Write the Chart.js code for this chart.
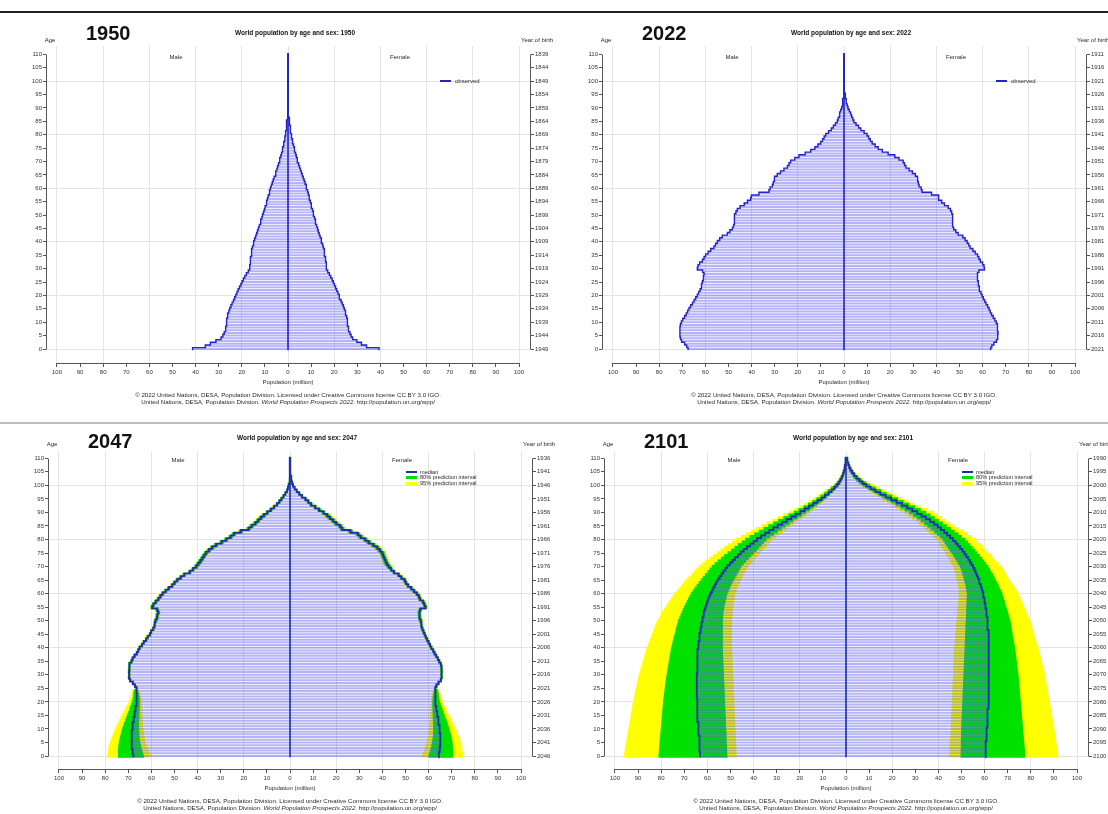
<!DOCTYPE html>
<html>
<head>
<meta charset="utf-8">
<script src="https://cdn.jsdelivr.net/npm/chart.js@4.4.1/dist/chart.umd.min.js"></script>
<style>
  html, body { margin: 0; padding: 0; background: #fff; }
  body { width: 1108px; height: 814px; position: relative; overflow: hidden;
         font-family: "Liberation Sans", Arial, sans-serif; }
  canvas { position: absolute; }
  .t { position: absolute; white-space: nowrap; line-height: 1; color: #222; }
  .mid { transform: translate(-50%, -50%); }
  .lft { transform: translate(0, -50%); }
  .rule { position: absolute; }
</style>
</head>
<body>
<script>
// ---------- axis ticks ----------
const AGE_TICKS = [0,5,10,15,20,25,30,35,40,45,50,55,60,65,70,75,80,85,90,95,100,105,110];
const POP_TICKS = [-100,-90,-80,-70,-60,-50,-40,-30,-20,-10,0,10,20,30,40,50,60,70,80,90,100];

// year of birth, one label per age tick (age 0 first)
const YOB_1950 = ['1949','1944','1939','1934','1929','1924','1919','1914','1909','1904','1899','1894','1889','1884','1879','1874','1869','1864','1859','1854','1849','1844','1839'];
const YOB_2022 = ['2021','2016','2011','2006','2001','1996','1991','1986','1981','1976','1971','1966','1961','1956','1951','1946','1941','1936','1931','1926','1921','1916','1911'];
const YOB_2047 = ['2046','2041','2036','2031','2026','2021','2016','2011','2006','2001','1996','1991','1986','1981','1976','1971','1966','1961','1956','1951','1946','1941','1936'];
const YOB_2101 = ['2100','2095','2090','2085','2080','2075','2070','2065','2060','2055','2050','2045','2040','2035','2030','2025','2020','2015','2010','2005','2000','1995','1990'];

// ---------- population by single age 0..110 (million) ----------
const M1950 = [41.3,35.8,33.6,31.2,29.0,28.2,27.6,27.2,26.9,26.7,
26.6,26.5,26.4,26.0,25.6,25.2,24.7,24.2,23.6,23.1,
22.6,22.1,21.6,21.0,20.4,19.9,19.3,18.7,18.0,17.2,
16.7,16.5,16.4,16.3,16.2,16.0,15.8,15.6,15.4,15.1,
14.8,14.4,14.0,13.6,13.2,12.8,12.4,12.0,11.7,11.3,
11.0,10.6,10.2,9.9,9.5,9.2,8.9,8.6,8.2,7.9,
7.6,7.2,6.8,6.4,6.0,5.6,5.2,4.8,4.5,4.1,
3.8,3.5,3.1,2.8,2.5,2.3,2.0,1.8,1.5,1.3,
1.15,1.0,0.85,0.72,0.6,0.5,0.4,0.32,0.25,0.19,
0.15,0.11,0.08,0.06,0.045,0.03,0.022,0.015,0.01,0.007,
0.005,0.003,0.002,0.0015,0.001,0.0007,0.0005,0.0003,0.0002,0.0001,0.0001];
const F1950 = [39.4,34.0,31.8,29.8,28.0,27.3,26.8,26.4,26.1,25.9,
25.8,25.6,25.4,25.1,24.8,24.4,24.0,23.5,23.0,22.5,
22.1,21.6,21.1,20.6,20.1,19.6,19.1,18.5,17.9,17.2,
16.8,16.6,16.5,16.4,16.2,16.0,15.8,15.6,15.3,15.0,
14.7,14.3,13.9,13.5,13.1,12.8,12.4,12.1,11.8,11.5,
11.2,10.9,10.6,10.3,10.0,9.7,9.4,9.1,8.8,8.5,
8.2,7.8,7.4,7.0,6.6,6.2,5.8,5.4,5.0,4.6,
4.3,3.9,3.6,3.3,3.0,2.7,2.4,2.1,1.9,1.65,
1.45,1.25,1.08,0.92,0.78,0.65,0.53,0.43,0.34,0.27,
0.21,0.16,0.12,0.09,0.065,0.047,0.033,0.023,0.016,0.011,
0.008,0.005,0.0035,0.0025,0.0017,0.0012,0.0008,0.0005,0.0003,0.0002,0.0001];

const M2022 = [67.5,68.1,69.0,70.3,70.8,71.0,71.1,71.0,71.0,70.8,
70.4,69.8,69.0,68.3,67.7,67.1,66.4,65.6,64.9,64.2,
63.5,62.9,62.3,61.9,61.6,61.3,61.0,60.8,60.6,61.2,
63.5,63.2,62.5,61.3,60.6,59.9,58.8,57.7,56.3,55.6,
54.8,53.8,52.7,50.5,49.4,48.3,47.8,47.6,47.5,47.4,
47.3,46.8,46.2,45.0,43.2,41.8,40.4,40.1,36.8,32.5,
32.0,31.0,30.6,30.3,30.0,28.9,27.5,26.0,24.5,23.8,
23.1,21.3,19.5,16.8,14.4,12.6,11.3,10.1,9.3,8.6,
7.9,6.7,5.5,4.6,3.7,2.9,2.5,2.1,1.8,1.4,
1.0,0.8,0.62,0.48,0.37,0.28,0.2,0.14,0.1,0.07,
0.05,0.035,0.024,0.016,0.01,0.007,0.004,0.003,0.002,0.001,0.001];
const F2022 = [63.5,64.0,64.9,66.0,66.4,66.6,66.7,66.6,66.5,66.3,
65.9,65.3,64.6,63.9,63.3,62.8,62.2,61.5,60.9,60.3,
59.8,59.3,58.8,58.5,58.3,58.1,57.9,57.8,57.7,58.4,
60.8,60.6,60.0,59.0,58.4,57.8,56.8,55.8,54.6,54.0,
53.3,52.4,51.4,49.4,48.4,47.5,47.1,47.0,47.0,47.0,
47.0,46.6,46.1,45.1,43.5,42.3,41.1,40.9,37.9,33.8,
33.4,32.5,32.2,32.0,31.8,30.9,29.6,28.2,26.8,26.2,
25.6,23.8,22.0,19.1,16.6,14.8,13.5,12.2,11.4,10.7,
10.0,8.7,7.3,6.3,5.2,4.3,3.8,3.3,2.9,2.3,
1.75,1.4,1.12,0.89,0.7,0.55,0.41,0.3,0.22,0.16,
0.12,0.085,0.06,0.04,0.027,0.018,0.012,0.008,0.005,0.003,0.002];

// 2047: median and prediction bounds
const M2047 = [67.8,68.0,68.2,68.4,68.5,68.6,68.6,68.6,68.5,68.4,
68.3,68.2,68.0,67.8,67.6,67.4,67.2,67.0,66.8,66.6,
66.4,66.3,66.3,66.4,66.5,66.5,67.1,68.0,69.2,69.7,
69.6,69.7,69.6,69.6,69.4,68.6,68.1,67.3,66.3,65.7,
65.1,64.1,63.3,62.3,61.6,60.6,60.1,59.2,58.8,58.5,
58.2,57.6,57.5,57.0,57.5,59.7,59.1,58.1,57.0,56.1,
55.1,53.8,52.5,51.0,50.0,48.8,47.3,45.8,43.4,42.0,
40.6,39.7,38.8,38.0,37.2,36.4,35.1,33.7,32.0,29.6,
27.6,25.7,24.3,21.3,17.9,16.6,15.0,13.8,12.6,11.3,
9.8,8.3,6.9,5.6,4.6,3.7,2.8,2.0,1.3,0.9,
0.6,0.42,0.3,0.2,0.13,0.09,0.06,0.04,0.025,0.015,0.01];
const M2047_HI80 = [74.3,74.3,74.3,74.2,74.1,73.9,73.7,73.4,73.1,72.8,
72.5,72.1,71.7,71.2,70.8,70.4,69.9,69.5,69.1,68.7,
68.3,68.0,67.8,67.7,67.5,66.8,67.4,68.3,69.5,70.0,
69.9,70.0,69.9,69.9,69.7,68.9,68.4,67.6,66.6,66.0,
65.4,64.4,63.6,62.6,61.9,60.9,60.4,59.5,59.1,58.8,
58.7,58.1,58.0,57.5,58.0,60.2,59.6,58.6,57.5,56.6,
55.6,54.3,53.0,51.5,50.5,49.3,47.8,46.3,43.9,42.5,
41.3,40.4,39.5,38.7,37.9,37.1,35.8,34.4,32.7,30.3,
28.3,26.4,25.0,22.0,18.6,17.3,15.7,14.5,13.3,12.0,
10.3,8.8,7.3,6.0,4.9,4.0,3.0,2.2,1.4,1.0,
0.65,0.46,0.33,0.22,0.14,0.1,0.07,0.045,0.03,0.018,0.012];
const M2047_HI95 = [79.0,78.8,78.6,78.4,78.1,77.8,77.4,77.0,76.5,76.0,
75.5,75.0,74.4,73.8,73.2,72.6,72.0,71.4,70.8,70.2,
69.7,69.2,68.8,68.5,68.1,67.0,67.6,68.5,69.7,70.2,
70.1,70.2,70.1,70.1,69.9,69.1,68.6,67.8,66.8,66.2,
65.6,64.6,63.8,62.8,62.1,61.1,60.6,59.7,59.3,59.0,
59.0,58.4,58.3,57.8,58.3,60.5,59.9,58.9,57.8,56.9,
55.9,54.6,53.3,51.8,50.8,49.6,48.1,46.6,44.2,42.8,
41.7,40.8,39.9,39.1,38.3,37.5,36.2,34.8,33.1,30.7,
28.7,26.8,25.4,22.4,19.0,17.7,16.1,14.9,13.7,12.4,
10.6,9.1,7.6,6.2,5.1,4.2,3.1,2.3,1.5,1.05,
0.7,0.5,0.36,0.24,0.15,0.11,0.075,0.05,0.032,0.02,0.013];
const M2047_LO80 = [63.4,63.8,64.1,64.5,64.7,65.0,65.2,65.3,65.4,65.4,
65.5,65.5,65.5,65.5,65.4,65.4,65.3,65.3,65.2,65.2,
65.2,65.2,65.4,65.6,66.0,66.2,66.8,67.7,68.9,69.4,
69.3,69.4,69.3,69.3,69.1,68.3,67.8,67.0,66.0,65.4,
64.8,63.8,63.0,62.0,61.3,60.3,59.8,58.9,58.5,58.2,
57.7,57.1,57.0,56.5,57.0,59.2,58.6,57.6,56.5,55.6,
54.6,53.3,52.0,50.5,49.5,48.3,46.8,45.3,42.9,41.5,
39.9,39.0,38.1,37.3,36.5,35.7,34.4,33.0,31.3,28.9,
26.9,25.0,23.6,20.6,17.2,15.9,14.3,13.1,11.9,10.6,
9.3,7.8,6.5,5.2,4.3,3.4,2.6,1.8,1.2,0.8,
0.55,0.38,0.27,0.18,0.12,0.08,0.05,0.035,0.02,0.012,0.008];
const M2047_LO95 = [60.4,60.9,61.3,61.8,62.2,62.6,62.9,63.1,63.3,63.4,
63.6,63.8,63.9,63.9,64.0,64.0,64.1,64.1,64.2,64.2,
64.3,64.5,64.7,65.0,65.5,66.0,66.6,67.5,68.7,69.2,
69.1,69.2,69.1,69.1,68.9,68.1,67.6,66.8,65.8,65.2,
64.6,63.6,62.8,61.8,61.1,60.1,59.6,58.7,58.3,58.0,
57.4,56.8,56.7,56.2,56.7,58.9,58.3,57.3,56.2,55.3,
54.3,53.0,51.7,50.2,49.2,48.0,46.5,45.0,42.6,41.2,
39.5,38.6,37.7,36.9,36.1,35.3,34.0,32.6,30.9,28.5,
26.5,24.6,23.2,20.2,16.8,15.5,13.9,12.7,11.5,10.2,
9.0,7.5,6.2,5.0,4.1,3.2,2.5,1.7,1.1,0.75,
0.5,0.35,0.25,0.16,0.11,0.07,0.045,0.03,0.018,0.01,0.007];

const F2047 = [64.3,64.5,64.7,64.9,65.0,65.1,65.1,65.1,65.0,64.9,
64.8,64.7,64.5,64.3,64.1,63.9,63.7,63.5,63.3,63.1,
63.0,62.9,62.9,63.0,63.0,62.9,63.4,64.3,65.3,65.7,
65.6,65.7,65.6,65.5,65.3,64.6,64.0,63.3,62.6,62.0,
61.2,60.6,60.0,59.4,58.8,58.3,57.8,57.3,57.0,56.8,
56.6,56.2,56.1,56.0,56.4,58.7,58.2,57.6,56.3,55.8,
54.9,53.7,52.5,51.1,50.2,49.6,48.2,47.0,45.0,43.8,
42.8,41.9,41.4,40.9,40.4,40.0,38.9,37.8,36.1,34.1,
32.6,30.6,29.4,26.2,22.6,21.7,20.0,18.7,17.3,16.1,
14.5,12.6,10.9,9.1,7.9,6.7,5.2,4.0,2.9,2.0,
1.3,0.95,0.7,0.5,0.35,0.25,0.17,0.11,0.07,0.045,0.03];
const F2047_HI80 = [70.5,70.5,70.5,70.4,70.3,70.2,70.0,69.8,69.5,69.1,
68.8,68.5,68.1,67.7,67.2,66.8,66.4,66.0,65.6,65.1,
64.8,64.5,64.3,64.2,63.9,63.2,63.7,64.6,65.6,66.0,
65.9,66.0,65.9,65.8,65.6,64.9,64.3,63.6,62.9,62.3,
61.5,60.9,60.3,59.7,59.1,58.6,58.1,57.6,57.3,57.1,
57.1,56.7,56.6,56.5,56.9,59.2,58.7,58.1,56.8,56.3,
55.4,54.2,53.0,51.6,50.7,50.1,48.7,47.5,45.5,44.3,
43.6,42.7,42.2,41.7,41.2,40.8,39.7,38.6,36.9,34.9,
33.4,31.4,30.2,27.0,23.4,22.5,20.8,19.5,18.1,16.9,
15.1,13.2,11.4,9.6,8.3,7.1,5.5,4.3,3.1,2.15,
1.4,1.02,0.75,0.54,0.38,0.27,0.18,0.12,0.075,0.048,0.032];
const F2047_HI95 = [74.9,74.7,74.5,74.3,74.1,73.8,73.4,73.0,72.6,72.1,
71.6,71.1,70.5,69.9,69.4,68.8,68.2,67.6,67.0,66.4,
66.0,65.5,65.2,64.9,64.6,63.4,63.9,64.8,65.8,66.2,
66.1,66.2,66.1,66.0,65.8,65.1,64.5,63.8,63.1,62.5,
61.7,61.1,60.5,59.9,59.3,58.8,58.3,57.8,57.5,57.3,
57.4,57.0,56.9,56.8,57.2,59.5,59.0,58.4,57.1,56.6,
55.7,54.5,53.3,51.9,51.0,50.4,49.0,47.8,45.8,44.6,
44.1,43.2,42.7,42.2,41.7,41.3,40.2,39.1,37.4,35.4,
33.9,31.9,30.7,27.5,23.9,23.0,21.3,20.0,18.6,17.4,
15.5,13.6,11.8,9.9,8.6,7.4,5.7,4.5,3.3,2.25,
1.5,1.08,0.8,0.57,0.4,0.29,0.19,0.13,0.08,0.05,0.034];
const F2047_LO80 = [60.1,60.5,60.8,61.2,61.4,61.7,61.8,62.0,62.1,62.1,
62.1,62.2,62.1,62.1,62.0,62.0,61.9,61.9,61.8,61.8,
61.8,61.9,62.0,62.3,62.4,62.6,63.1,64.0,65.0,65.4,
65.3,65.4,65.3,65.2,65.0,64.3,63.7,63.0,62.3,61.7,
60.9,60.3,59.7,59.1,58.5,58.0,57.5,57.0,56.7,56.5,
56.1,55.7,55.6,55.5,55.9,58.2,57.7,57.1,55.8,55.3,
54.4,53.2,52.0,50.6,49.7,49.1,47.7,46.5,44.5,43.3,
42.0,41.1,40.6,40.1,39.6,39.2,38.1,37.0,35.3,33.3,
31.8,29.8,28.6,25.4,21.8,20.9,19.2,17.9,16.5,15.3,
13.9,12.0,10.4,8.6,7.5,6.3,4.9,3.7,2.7,1.85,
1.2,0.88,0.65,0.46,0.32,0.23,0.16,0.1,0.065,0.042,0.028];
const F2047_LO95 = [57.3,57.7,58.2,58.6,59.0,59.3,59.6,59.9,60.0,60.2,
60.4,60.5,60.6,60.7,60.8,60.8,60.9,61.0,61.0,61.1,
61.2,61.3,61.5,61.8,62.1,62.4,62.9,63.8,64.8,65.2,
65.1,65.2,65.1,65.0,64.8,64.1,63.5,62.8,62.1,61.5,
60.7,60.1,59.5,58.9,58.3,57.8,57.3,56.8,56.5,56.3,
55.8,55.4,55.3,55.2,55.6,57.9,57.4,56.8,55.5,55.0,
54.1,52.9,51.7,50.3,49.4,48.8,47.4,46.2,44.2,43.0,
41.5,40.6,40.1,39.6,39.1,38.7,37.6,36.5,34.8,32.8,
31.3,29.3,28.1,24.9,21.3,20.4,18.7,17.4,16.0,14.8,
13.5,11.6,10.0,8.3,7.2,6.0,4.7,3.5,2.5,1.75,
1.1,0.82,0.6,0.43,0.3,0.21,0.15,0.095,0.06,0.04,0.026];

// 2101: median and prediction bounds
const M2101 = [63.2,63.2,63.3,63.3,63.4,63.5,63.5,63.6,63.7,63.8,
63.9,64.0,64.0,64.1,64.2,64.3,64.3,64.4,64.4,64.5,
64.5,64.5,64.6,64.6,64.6,64.6,64.6,64.6,64.6,64.6,
64.6,64.5,64.5,64.5,64.4,64.4,64.3,64.2,64.2,64.1,
64.0,63.9,63.8,63.6,63.5,63.3,63.1,62.9,62.7,62.5,
62.3,62.0,61.8,61.5,61.2,60.8,60.4,60.0,59.6,59.1,
58.6,58.0,57.4,56.8,56.2,55.5,54.7,53.9,53.1,52.2,
51.3,50.2,49.1,48.0,46.8,45.6,44.3,42.9,41.5,40.0,
38.5,36.8,35.0,33.2,31.4,29.6,27.6,25.7,23.7,21.8,
19.8,17.9,16.0,14.2,12.4,10.6,9.1,7.6,6.3,5.1,
4.0,3.1,2.4,1.8,1.3,1.0,0.7,0.5,0.33,0.22,0.15];
const M2101_LO95 = [47.5,47.6,47.6,47.7,47.7,47.8,47.8,47.9,47.9,48.0,
48.0,48.1,48.1,48.2,48.2,48.3,48.3,48.4,48.4,48.5,
48.5,48.6,48.6,48.7,48.7,48.8,48.8,48.9,48.9,49.0,
49.0,49.1,49.1,49.2,49.2,49.3,49.3,49.4,49.4,49.5,
49.5,49.5,49.5,49.5,49.5,49.5,49.5,49.5,49.5,49.5,
49.5,49.4,49.3,49.2,49.1,49.0,48.8,48.6,48.4,48.2,
48.0,47.6,47.2,46.7,46.2,45.7,45.1,44.5,43.9,43.2,
42.5,41.6,40.6,39.6,38.6,37.5,36.4,35.3,34.2,33.1,
32.0,30.5,29.0,27.5,25.9,24.3,22.7,21.1,19.4,17.7,
16.0,14.5,13.0,11.6,10.2,8.9,7.6,6.4,5.2,4.1,
3.0,2.3,1.7,1.2,0.85,0.6,0.42,0.3,0.2,0.14,0.1];
const M2101_LO80 = [51.5,51.6,51.6,51.7,51.7,51.8,51.8,51.9,51.9,52.0,
52.0,52.1,52.1,52.2,52.2,52.3,52.3,52.4,52.4,52.5,
52.5,52.6,52.6,52.7,52.7,52.8,52.8,52.9,52.9,53.0,
53.0,53.1,53.1,53.2,53.2,53.3,53.3,53.4,53.4,53.5,
53.5,53.5,53.5,53.5,53.5,53.5,53.5,53.5,53.5,53.5,
53.5,53.4,53.3,53.2,53.0,52.8,52.6,52.3,52.0,51.8,
51.5,51.0,50.5,50.0,49.4,48.8,48.1,47.4,46.7,46.1,
45.5,44.5,43.4,42.3,41.2,40.0,38.9,37.8,36.7,35.6,
34.5,32.9,31.3,29.7,28.0,26.3,24.6,22.9,21.1,19.3,
17.5,15.9,14.3,12.7,11.2,9.8,8.4,7.0,5.7,4.5,
3.3,2.5,1.85,1.35,0.95,0.68,0.48,0.34,0.24,0.17,0.12];
const M2101_HI80 = [81.0,80.9,80.8,80.7,80.6,80.5,80.4,80.3,80.2,80.1,
80.0,79.9,79.8,79.7,79.6,79.5,79.4,79.3,79.2,79.1,
79.0,78.9,78.7,78.6,78.4,78.3,78.1,78.0,77.8,77.7,
77.5,77.3,77.1,76.9,76.7,76.5,76.3,76.1,75.9,75.7,
75.5,75.2,74.9,74.6,74.3,74.0,73.7,73.4,73.1,72.8,
72.5,72.0,71.5,71.0,70.5,70.0,69.4,68.8,68.2,67.6,
67.0,66.2,65.4,64.5,63.6,62.7,61.8,60.9,59.9,59.0,
58.0,56.7,55.4,54.0,52.6,51.1,49.6,48.1,46.6,45.0,
43.5,41.6,39.6,37.6,35.6,33.5,31.4,29.2,27.0,24.8,
22.5,20.4,18.3,16.3,14.4,12.6,10.9,9.3,7.8,6.3,
4.8,3.8,2.9,2.2,1.6,1.2,0.85,0.6,0.42,0.3,0.2];
const M2101_HI95 = [96.0,95.8,95.6,95.4,95.2,95.0,94.8,94.6,94.4,94.2,
94.0,93.8,93.6,93.4,93.2,93.0,92.8,92.6,92.4,92.2,
92.0,91.8,91.5,91.3,91.0,90.8,90.5,90.3,90.0,89.8,
89.5,89.2,88.8,88.5,88.1,87.8,87.4,87.1,86.7,86.4,
86.0,85.6,85.1,84.7,84.2,83.8,83.3,82.9,82.4,82.0,
81.5,80.8,80.1,79.4,78.7,78.0,77.2,76.4,75.6,74.8,
74.0,73.0,72.0,71.0,70.0,69.0,67.9,66.8,65.7,64.6,
63.5,62.0,60.5,59.0,57.4,55.8,54.2,52.6,50.9,49.2,
47.5,45.4,43.2,41.0,38.8,36.5,34.2,31.8,29.4,27.0,
24.5,22.2,20.0,17.8,15.8,13.9,12.1,10.4,8.8,7.1,
5.5,4.3,3.3,2.5,1.9,1.4,1.0,0.7,0.5,0.35,0.25];

const F2101 = [60.3,60.4,60.4,60.5,60.5,60.6,60.7,60.8,60.8,60.9,
61.0,61.1,61.1,61.2,61.2,61.3,61.4,61.4,61.5,61.5,
61.6,61.6,61.7,61.7,61.8,61.8,61.8,61.8,61.9,61.9,
61.9,61.9,61.9,61.9,61.9,61.9,61.9,61.9,61.8,61.8,
61.8,61.8,61.7,61.7,61.6,61.6,61.5,61.4,61.4,61.3,
61.2,61.1,61.0,60.8,60.7,60.5,60.3,60.1,59.9,59.6,
59.4,59.1,58.7,58.4,58.0,57.6,57.1,56.6,56.1,55.6,
55.0,54.3,53.6,52.9,52.1,51.3,50.4,49.4,48.4,47.4,
46.3,45.1,43.8,42.5,41.1,39.7,38.1,36.4,34.6,32.7,
30.8,28.7,26.5,24.2,21.9,19.5,17.2,14.9,12.8,10.7,
8.8,7.2,5.8,4.5,3.5,2.6,1.9,1.4,1.0,0.7,0.5];
const F2101_LO95 = [44.8,44.9,44.9,45.0,45.1,45.1,45.2,45.3,45.4,45.4,
45.5,45.5,45.6,45.6,45.7,45.7,45.8,45.8,45.9,45.9,
46.0,46.0,46.1,46.1,46.2,46.2,46.3,46.3,46.4,46.4,
46.5,46.5,46.6,46.6,46.7,46.7,46.8,46.8,46.9,46.9,
47.0,47.1,47.2,47.3,47.4,47.5,47.6,47.7,47.8,47.9,
48.0,48.1,48.2,48.3,48.4,48.5,48.6,48.7,48.8,48.9,
49.0,48.9,48.8,48.6,48.4,48.2,47.9,47.6,47.3,46.9,
46.5,45.9,45.3,44.6,43.9,43.1,42.4,41.6,40.8,40.2,
39.5,38.3,37.1,35.9,34.6,33.3,31.9,30.5,28.8,27.2,
25.5,23.6,21.7,19.8,17.9,16.0,14.2,12.4,10.6,8.7,
6.8,5.4,4.2,3.2,2.4,1.8,1.3,0.95,0.7,0.5,0.35];
const F2101_LO80 = [49.8,49.8,49.8,49.9,49.9,49.9,49.9,50.0,50.0,50.0,
50.0,50.1,50.1,50.2,50.2,50.3,50.3,50.4,50.4,50.5,
50.5,50.6,50.6,50.7,50.7,50.8,50.8,50.9,50.9,51.0,
51.0,51.1,51.1,51.2,51.2,51.3,51.3,51.4,51.4,51.5,
51.5,51.6,51.6,51.7,51.7,51.8,51.8,51.9,51.9,52.0,
52.0,52.1,52.1,52.2,52.2,52.3,52.3,52.4,52.4,52.5,
52.5,52.3,52.1,51.9,51.6,51.3,51.0,50.6,50.3,49.9,
49.5,48.8,48.1,47.4,46.7,45.9,45.1,44.3,43.5,42.8,
42.0,40.8,39.5,38.2,36.8,35.4,34.0,32.5,30.9,29.2,
27.5,25.6,23.6,21.6,19.7,17.7,15.7,13.7,11.6,9.6,
7.5,6.0,4.6,3.5,2.7,2.0,1.5,1.1,0.8,0.55,0.4];
const F2101_HI80 = [77.5,77.4,77.3,77.2,77.1,77.0,76.9,76.8,76.7,76.6,
76.5,76.4,76.3,76.2,76.1,76.0,75.9,75.8,75.7,75.6,
75.5,75.4,75.3,75.2,75.1,75.0,74.9,74.8,74.7,74.6,
74.5,74.4,74.2,74.1,73.9,73.8,73.6,73.5,73.3,73.2,
73.0,72.8,72.6,72.4,72.2,72.0,71.8,71.6,71.4,71.2,
71.0,70.7,70.3,70.0,69.6,69.3,68.9,68.6,68.2,67.9,
67.5,67.0,66.4,65.9,65.3,64.7,64.1,63.5,62.8,62.2,
61.5,60.6,59.7,58.8,57.8,56.8,55.8,54.7,53.7,52.6,
51.5,50.0,48.5,46.9,45.2,43.5,41.8,40.0,38.2,36.4,
34.5,32.2,29.8,27.3,24.8,22.3,19.9,17.4,15.0,12.6,
10.3,8.4,6.7,5.2,4.0,3.1,2.3,1.7,1.2,0.85,0.6];
const F2101_HI95 = [91.8,91.6,91.4,91.3,91.1,90.9,90.7,90.5,90.4,90.2,
90.0,89.8,89.6,89.4,89.2,89.0,88.8,88.6,88.4,88.2,
88.0,87.8,87.6,87.4,87.2,87.0,86.8,86.6,86.4,86.2,
86.0,85.7,85.4,85.1,84.8,84.5,84.2,83.9,83.6,83.3,
83.0,82.7,82.3,82.0,81.6,81.3,80.9,80.6,80.2,79.9,
79.5,79.0,78.5,78.0,77.5,77.0,76.5,76.0,75.5,75.0,
74.5,73.8,73.0,72.3,71.5,70.8,70.0,69.3,68.5,67.8,
67.0,65.9,64.8,63.7,62.6,61.5,60.4,59.3,58.2,57.1,
56.0,54.2,52.3,50.5,48.6,46.8,44.9,43.1,41.2,39.4,
37.5,34.8,32.1,29.4,26.8,24.2,21.7,19.1,16.6,14.0,
11.5,9.3,7.4,5.8,4.5,3.5,2.6,1.9,1.4,1.0,0.7];

// ---------- colours ----------
const C_BAR = 'rgba(88,88,236,0.45)';
const C_LINE = '#2323c8';
const C_MEDIAN = '#1d2fae';
const C_GREEN = '#00e100';
const C_YELLOW = '#ffff00';
const C_GRID = '#e4e4e4';
const C_AXIS = '#555';
const C_TEXT = '#2a2a2a';

Chart.defaults.font.family = "'Liberation Sans', Arial, sans-serif";
Chart.defaults.color = '#333';

// ---------- panel layout (page px) ----------
const PANELS = [
  { year:'1950', left:0,   top:14,  w:556, h:408, cx:288, axL:46,  axR:531,  y0:349, y110:54.3,  axY:363, topY:46,
    male:M1950, female:F1950, yob:YOB_1950, kind:'observed' },
  { year:'2022', left:556, top:14,  w:552, h:408, cx:844, axL:602, axR:1087, y0:349, y110:54.3,  axY:363, topY:46,
    male:M2022, female:F2022, yob:YOB_2022, kind:'observed' },
  { year:'2047', left:0,   top:424, w:556, h:390, cx:290, axL:48,  axR:533,  y0:756, y110:458.3, axY:769, topY:452,
    male:M2047, female:F2047, yob:YOB_2047, kind:'projected',
    mLo95:M2047_LO95, mLo80:M2047_LO80, mHi80:M2047_HI80, mHi95:M2047_HI95,
    fLo95:F2047_LO95, fLo80:F2047_LO80, fHi80:F2047_HI80, fHi95:F2047_HI95 },
  { year:'2101', left:556, top:424, w:552, h:390, cx:846, axL:604, axR:1089, y0:756, y110:458.3, axY:769, topY:452,
    male:M2101, female:F2101, yob:YOB_2101, kind:'projected',
    mLo95:M2101_LO95, mLo80:M2101_LO80, mHi80:M2101_HI80, mHi95:M2101_HI95,
    fLo95:F2101_LO95, fLo80:F2101_LO80, fHi80:F2101_HI80, fHi95:F2101_HI95 }
];
const PX_PER_MILLION = 2.31;

// axis lines drawn only across the tick range, base-graphics style
const axisLines = {
  id: 'axisLines',
  afterDraw(chart) {
    const { ctx, chartArea: a } = chart;
    const x = chart.scales.x, y = chart.scales.y;
    const yb = Math.round(y.getPixelForValue(0)) + 0.5;
    const yt = Math.round(y.getPixelForValue(110)) + 0.5;
    const xl = x.getPixelForValue(-100), xr = x.getPixelForValue(100);
    ctx.save();
    ctx.strokeStyle = C_AXIS;
    ctx.lineWidth = 1;
    ctx.beginPath();
    ctx.moveTo(a.left + 0.5, yb); ctx.lineTo(a.left + 0.5, yt);
    ctx.moveTo(a.right - 0.5, yb); ctx.lineTo(a.right - 0.5, yt);
    ctx.moveTo(xl, a.bottom + 0.5); ctx.lineTo(xr, a.bottom + 0.5);
    ctx.stroke();
    ctx.restore();
  }
};

function stepOutline(values, sign) {
  const pts = [];
  values.forEach((v, age) => {
    pts.push({ x: sign * v, y: age - 0.5 });
    pts.push({ x: sign * v, y: age + 0.5 });
  });
  return pts;
}
function rangeBars(lo, hi, sign) {
  return lo.map((v, age) => ({ x: [sign * v, sign * hi[age]], y: age }));
}

function buildPanel(p) {
  const cv = document.createElement('canvas');
  cv.width = p.w; cv.height = p.h;
  cv.style.left = p.left + 'px'; cv.style.top = p.top + 'px';
  cv.style.width = p.w + 'px'; cv.style.height = p.h + 'px';
  document.body.appendChild(cv);

  const ppy = (p.y0 - p.y110) / 110;
  const xmin = -(p.cx - p.axL) / PX_PER_MILLION;
  const xmax = (p.axR - p.cx) / PX_PER_MILLION;
  const ymin = -(p.axY - p.y0) / ppy;
  const ymax = 110 + (p.y110 - p.topY) / ppy;

  const datasets = [];
  if (p.kind === 'projected') {
    const band = (data, color, order) => ({
      type: 'bar', data, backgroundColor: color, borderWidth: 0, grouped: false,
      barPercentage: 1, categoryPercentage: 1, inflateAmount: 0.4, order
    });
    datasets.push(band(rangeBars(p.mLo95, p.mHi95, -1), C_YELLOW, 20));
    datasets.push(band(rangeBars(p.fLo95, p.fHi95, 1), C_YELLOW, 20));
    datasets.push(band(rangeBars(p.mLo80, p.mHi80, -1), C_GREEN, 19));
    datasets.push(band(rangeBars(p.fLo80, p.fHi80, 1), C_GREEN, 19));
  }
  // one bar per single age, from the male total (left) to the female total (right)
  datasets.push({
    type: 'bar', grouped: false, order: 10,
    data: p.male.map((m, age) => ({ x: [-m, p.female[age]], y: age })),
    backgroundColor: C_BAR, borderWidth: 0, barPercentage: 0.74, categoryPercentage: 1
  });
  const lineColor = p.kind === 'projected' ? C_MEDIAN : C_LINE;
  const outline = (data) => ({
    type: 'line', data, borderColor: lineColor, borderWidth: p.kind === 'projected' ? 1.8 : 1.4,
    pointRadius: 0, fill: false, tension: 0, order: 2
  });
  datasets.push(outline(stepOutline(p.male, -1)));
  datasets.push(outline(stepOutline(p.female, 1)));
  datasets.push({
    type: 'line', data: [{ x: 0, y: -0.5 }, { x: 0, y: 110 }],
    borderColor: lineColor, borderWidth: 1.6, pointRadius: 0, order: 1
  });

  const gridColor = (ctx) => (ctx.tick && ctx.tick.value % 20 === 0 && ctx.tick.value <= 100) ? C_GRID : 'rgba(0,0,0,0)';

  new Chart(cv, {
    type: 'bar',
    data: { datasets },
    options: {
      responsive: false, animation: false, devicePixelRatio: 1, indexAxis: 'y',
      layout: { padding: { top: p.topY - p.top, left: 0, right: 0, bottom: 0 } },
      plugins: { legend: { display: false }, tooltip: { enabled: false } },
      scales: {
        x: {
          type: 'linear', position: 'bottom', min: xmin, max: xmax, offset: false,
          afterBuildTicks: (s) => { s.ticks = POP_TICKS.map(v => ({ value: v })); },
          afterFit: (s) => { s.height = p.h - (p.axY - p.top); },
          ticks: { callback: (v) => String(Math.abs(v)), font: { size: 6 }, color: '#333', padding: 2, maxRotation: 0, autoSkip: false },
          grid: { offset: false, color: gridColor, tickColor: C_AXIS, tickLength: 4, lineWidth: 1 },
          border: { display: false }
        },
        y: {
          type: 'linear', position: 'left', min: ymin, max: ymax, offset: false,
          afterBuildTicks: (s) => { s.ticks = AGE_TICKS.map(v => ({ value: v })); },
          afterFit: (s) => { s.width = p.axL - p.left; },
          ticks: { font: { size: 6 }, color: '#333', padding: 1, autoSkip: false },
          grid: { offset: false, color: gridColor, tickColor: C_AXIS, tickLength: 3, lineWidth: 1 },
          border: { display: false }
        },
        y2: {
          type: 'linear', position: 'right', min: ymin, max: ymax, offset: false,
          afterBuildTicks: (s) => { s.ticks = AGE_TICKS.map(v => ({ value: v })); },
          afterFit: (s) => { s.width = p.left + p.w - p.axR; },
          ticks: { callback: (v) => p.yob[Math.round(v / 5)], font: { size: 6 }, color: '#333', padding: 1, autoSkip: false },
          grid: { offset: false, drawOnChartArea: false, tickColor: C_AXIS, tickLength: 3 },
          border: { display: false }
        }
      }
    },
    plugins: [axisLines]
  });
}

// ---------- text ----------
function txt(str, x, y, o) {
  const d = document.createElement('div');
  d.className = 't ' + (o.anchor === 'start' ? 'lft' : 'mid');
  d.style.left = x + 'px'; d.style.top = y + 'px';
  d.style.fontSize = o.size + 'px';
  if (o.bold) d.style.fontWeight = 'bold';
  if (o.color) d.style.color = o.color;
  if (o.html) d.innerHTML = str; else d.textContent = str;
  document.body.appendChild(d);
  return d;
}
function rule(x, y, w, h, color) {
  const d = document.createElement('div');
  d.className = 'rule';
  Object.assign(d.style, { left: x + 'px', top: y + 'px', width: w + 'px', height: h + 'px', background: color });
  document.body.appendChild(d);
}

function labelPanel(p) {
  const top = p.top < 100;
  const cx = p.cx;
  const yYear = top ? 33 : 440.5, yTitle = top ? 33 : 438, yAge = top ? 40 : 443.5, yMF = top ? 56.7 : 459.5;
  txt(p.year, cx - 202, yYear, { size: 20, bold: true, anchor: 'start', color: '#111' });
  txt('World population by age and sex: ' + p.year, cx + 7, yTitle, { size: 6.5, bold: true, color: '#111' });
  txt('Age', cx - 238, yAge, { size: 6, color: C_TEXT });
  txt('Year of birth', cx + 233, yAge, { size: 6, anchor: 'start', color: C_TEXT });
  txt('Male', cx - 112, yMF, { size: 6, color: C_TEXT });
  txt('Female', cx + 112, yMF, { size: 6, color: C_TEXT });

  if (p.kind === 'observed') {
    rule(cx + 152, 80, 11, 1.5, C_LINE);
    txt('observed', cx + 167, 80.5, { size: 6, anchor: 'start', color: C_TEXT });
  } else {
    const lx = cx + 116;
    const items = [['median', C_MEDIAN, 1.5, 472], ['80% prediction interval', C_GREEN, 3, 477.5], ['95% prediction interval', C_YELLOW, 3, 483]];
    items.forEach(([label, color, lw, yy]) => {
      rule(lx, yy - lw / 2, 11, lw, color);
      txt(label, lx + 14, yy + 0.5, { size: 5.6, anchor: 'start', color: C_TEXT });
    });
  }

  const yPop = p.axY + 19, yC1 = p.axY + 32, yC2 = p.axY + 39;
  txt('Population (million)', cx, yPop, { size: 6, color: C_TEXT });
  txt('\u00a9 2022 United Nations, DESA, Population Division. Licensed under Creative Commons license CC BY 3.0 IGO.', cx, yC1, { size: 6.2, color: C_TEXT });
  txt('United Nations, DESA, Population Division. <i>World Population Prospects 2022</i>. http://population.un.org/wpp/', cx, yC2, { size: 6.2, color: C_TEXT, html: true });
}

PANELS.forEach(buildPanel);
PANELS.forEach(labelPanel);

// frame rules around the sheet
rule(0, 11, 1108, 1.5, '#222');
rule(0, 422, 1108, 1.5, '#bdbdbd');
</script>
</body>
</html>
